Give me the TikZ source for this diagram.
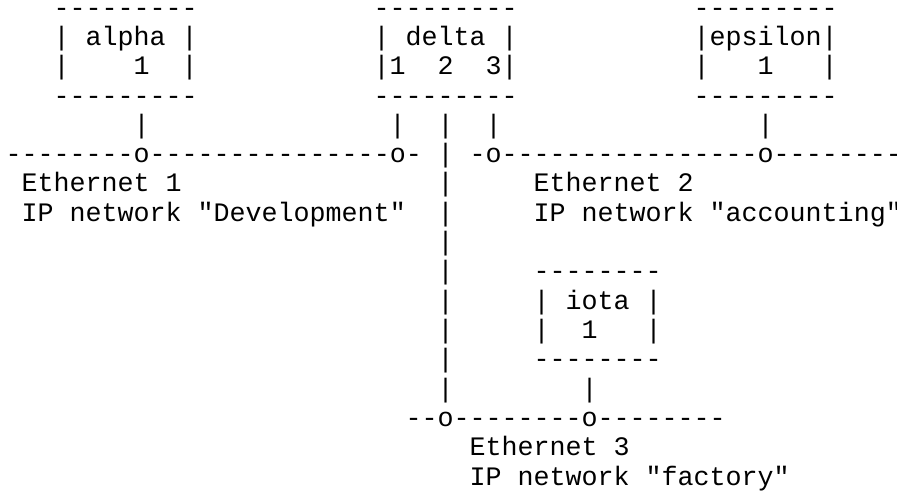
\documentclass[tikz,border=0pt]{standalone}
\usepackage{fontspec}
\setmonofont{Liberation Mono}
\tikzset{txt/.style={anchor=base west, inner sep=0pt, outer sep=0pt, text=black,
  font=\ttfamily\fontsize{26.67bp}{29.3bp}\selectfont}}
\newcommand\asc[4]{\node[txt] (#1) at ({5.7+16*#2},{16.2+29.3*#3}) {#4};}
\begin{document}
\begin{tikzpicture}[x=1bp,y=-1bp]
\useasboundingbox[fill=white] (0,0) rectangle (897,493);
% host boxes
\asc{alphaTop}{3}{0}{---------}
\asc{alphaName}{3}{1}{|\ alpha\ |}
\asc{alphaNum}{3}{2}{|\ \ \ \ 1\ \ |}
\asc{alphaBot}{3}{3}{---------}
\asc{deltaTop}{23}{0}{---------}
\asc{deltaName}{23}{1}{|\ delta\ |}
\asc{deltaNum}{23}{2}{|1\ \ 2\ \ 3|}
\asc{deltaBot}{23}{3}{---------}
\asc{epsTop}{43}{0}{---------}
\asc{epsName}{43}{1}{|epsilon|}
\asc{epsNum}{43}{2}{|\ \ \ 1\ \ \ |}
\asc{epsBot}{43}{3}{---------}
% drops
\asc{dropA}{8}{4}{|}
\asc{dropD1}{24}{4}{|}
\asc{dropD2}{27}{4}{|}
\asc{dropD3}{30}{4}{|}
\asc{dropE}{47}{4}{|}
% ethernet 1 and 2
\asc{eth1}{0}{5}{--------o---------------o-}
\asc{trunk5}{27}{5}{|}
\asc{eth2}{29}{5}{-o----------------o--------}
\asc{eth1a}{1}{6}{Ethernet\ 1}
\asc{trunk6}{27}{6}{|}
\asc{eth2a}{33}{6}{Ethernet\ 2}
\asc{eth1b}{1}{7}{IP\ network\ "Development"}
\asc{trunk7}{27}{7}{|}
\asc{eth2b}{33}{7}{IP\ network\ "accounting"}
\asc{trunk8}{27}{8}{|}
\asc{trunk9}{27}{9}{|}
\asc{trunk10}{27}{10}{|}
\asc{trunk11}{27}{11}{|}
\asc{trunk12}{27}{12}{|}
\asc{trunk13}{27}{13}{|}
% iota
\asc{iotaTop}{33}{9}{--------}
\asc{iotaName}{33}{10}{|\ iota\ |}
\asc{iotaNum}{33}{11}{|\ \ 1\ \ \ |}
\asc{iotaBot}{33}{12}{--------}
\asc{dropI}{36}{13}{|}
% ethernet 3
\asc{eth3}{25}{14}{--o--------o--------}
\asc{eth3a}{29}{15}{Ethernet\ 3}
\asc{eth3b}{29}{16}{IP\ network\ "factory"}
\end{tikzpicture}
\end{document}
